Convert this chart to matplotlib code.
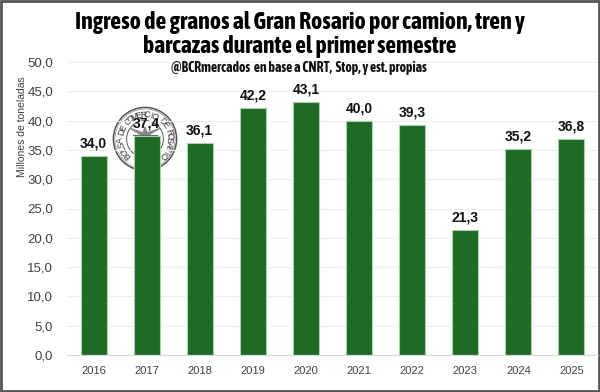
import numpy as np
import matplotlib.pyplot as plt
from matplotlib import font_manager
import matplotlib.patheffects as pe
from matplotlib.patches import Rectangle, Circle

# datos
years = ["2016", "2017", "2018", "2019", "2020", "2021", "2022", "2023", "2024", "2025"]
values = [34.0, 37.4, 36.1, 42.2, 43.1, 40.0, 39.3, 21.3, 35.2, 36.8]
yticks = [0, 5, 10, 15, 20, 25, 30, 35, 40, 45, 50]

TITLE1 = "Ingreso de granos al Gran Rosario por camion, tren y"
TITLE2 = "barcazas durante el primer semestre"
SUBTITLE = "@BCRmercados  en base a CNRT,  Stop, y est. propias"
LOGO_TXT = "BOLSA DE COMERCIO DE ROSARIO"

W, H = 600, 392
GREEN = "#1d6b24"
SANS = ["Liberation Sans", "DejaVu Sans"]


def _w(f):
    w = f.weight
    return font_manager.weight_dict.get(w, 400) if isinstance(w, str) else w


# buscar una fuente angosta instalada (preferir una con negrita)
narrow = [f for f in font_manager.fontManager.ttflist
          if "Narrow" in f.name or "Cond" in f.name]
bold_narrow = [f.name for f in narrow if _w(f) >= 600]
if bold_narrow:
    NARROW = [bold_narrow[0], "DejaVu Sans"]
    FAKE_BOLD = []
else:
    NARROW = [sorted(f.name for f in narrow)[0] if narrow else "DejaVu Sans", "DejaVu Sans"]
    FAKE_BOLD = [pe.withStroke(linewidth=0.9, foreground="black")]


def fx(px):
    return px / W


def fy(py):
    return 1 - py / H


fig = plt.figure(figsize=(W / 100, H / 100), dpi=100)
fig.patch.set_facecolor("white")
rend = fig.canvas.get_renderer()


def fit_text(xp, yp, s, width_px, size0, **kw):
    t = fig.text(fx(xp), fy(yp), s, ha="center", va="center", fontsize=size0, **kw)
    w = t.get_window_extent(rend).width
    t.set_fontsize(size0 * width_px / w)
    return t


# sello de fondo
lg = fig.add_axes([fx(145 - 40), fy(139 + 40), fx(80), 80 / H], zorder=0)
lg.set_xlim(-1, 1); lg.set_ylim(-1, 1); lg.axis("off")
lg.add_patch(Circle((0, 0), 0.79, fill=False, ec="#555555", lw=1.1))
lg.add_patch(Circle((0, 0), 0.75, fill=False, ec="#777777", lw=0.4))
lg.add_patch(Circle((0, 0), 0.46, fill=False, ec="#555555", lw=0.7))
angs = np.linspace(222, -42, len(LOGO_TXT))
for ch, a in zip(LOGO_TXT, angs):
    r = np.deg2rad(a)
    lg.text(0.605 * np.cos(r), 0.605 * np.sin(r), ch, fontsize=6.3, color="#3a3a3a",
            rotation=a - 90, ha="center", va="center", family=SANS)
lg.plot([-0.3, 0.3], [0.1, 0.1], color="#666666", lw=0.8)
lg.plot([0, 0], [0.1, -0.3], color="#666666", lw=0.8)
lg.fill([-0.36, -0.05, 0, 0.05, 0.36, 0], [0.26, 0.15, 0.3, 0.15, 0.26, 0.05], color="#888888")

ax = fig.add_axes([fx(67), fy(355), fx(531), (355 - 62) / H], zorder=1)
ax.patch.set_alpha(0)

x = np.arange(len(years))
bars = ax.bar(x, values, width=0.49, color=GREEN, edgecolor="#a8d3a8", linewidth=0.8, zorder=2)
for b, v in zip(bars, values):
    ax.annotate(f"{v:.1f}".replace(".", ","), (b.get_x() + b.get_width() / 2, v),
                xytext=(0, 4), textcoords="offset points", ha="center", va="bottom",
                fontsize=10, fontweight="bold", color="#111111", family=SANS)

ax.set_xlim(-0.5, 9.5)
ax.set_ylim(0, 50)
ax.set_yticks(yticks)
ax.set_yticklabels([f"{t:.1f}".replace(".", ",") for t in yticks], family=SANS, fontsize=9.5, color="#404040")
ax.set_xticks(x)
ax.set_xticklabels(years, family=SANS, fontsize=8, color="#404040")
ax.tick_params(length=0, pad=8)
ax.tick_params(axis="y", pad=10)
ax.grid(axis="y", color="#eeeeee", lw=0.8, zorder=0)
ax.set_axisbelow(True)
for s in ["top", "right", "left"]:
    ax.spines[s].set_visible(False)
ax.spines["bottom"].set_color("#d9d9d9")

fig.text(fx(22), fy(127), "Millones de toneladas", rotation=90, ha="center", va="center",
         fontsize=7.5, color="#404040", family=SANS)
fit_text(300, 22, TITLE1, 451, 15, fontweight="bold", family=NARROW, color="black",
         path_effects=FAKE_BOLD)
fit_text(300, 47, TITLE2, 315, 15, fontweight="bold", family=NARROW, color="black",
         path_effects=FAKE_BOLD)
fit_text(299, 68, SUBTITLE, 259, 8, fontweight="bold", family=NARROW, color="#111111",
         path_effects=[pe.withStroke(linewidth=0.4, foreground="#111111")] if FAKE_BOLD else [])

fig.add_artist(Rectangle((0.0015, 0.002), 0.997, 0.996, transform=fig.transFigure,
                         fill=False, ec="#555555", lw=2))

fig.savefig("out.png", dpi=100)
